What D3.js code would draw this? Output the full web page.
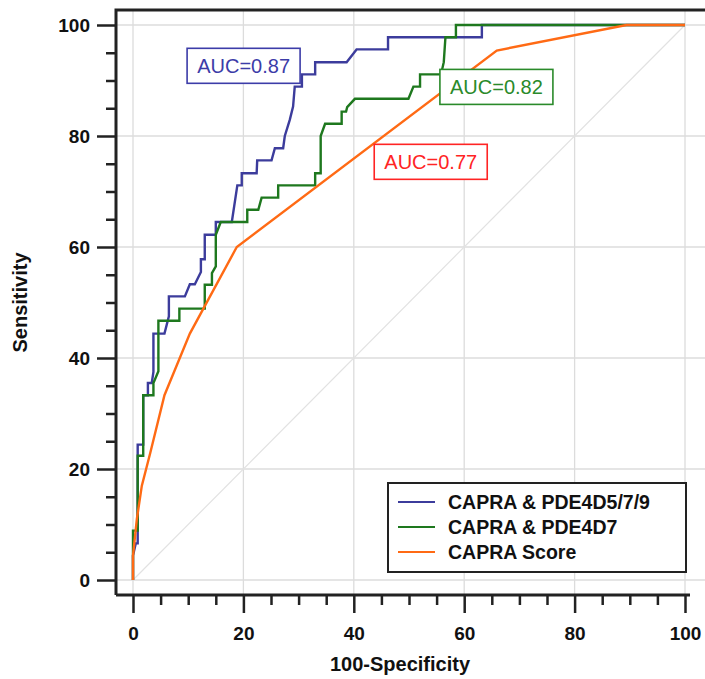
<!DOCTYPE html>
<html>
<head>
<meta charset="utf-8">
<script src="https://cdn.jsdelivr.net/npm/d3@7/dist/d3.min.js"></script>
<style>
  html, body { margin: 0; padding: 0; background: #fff; }
  svg { display: block; }
  text { font-family: "Liberation Sans", Arial, sans-serif; }
</style>
</head>
<body>
<svg id="chart" width="705" height="679"></svg>
<script>
// ---- data ----
const seriesNames = ["CAPRA & PDE4D5/7/9", "CAPRA & PDE4D7", "CAPRA Score"];
const aucLabels = ["AUC=0.87", "AUC=0.82", "AUC=0.77"];

// CAPRA & PDE4D5/7/9  (100-Specificity, Sensitivity)
const fprPDE579 = [0,0,0.5,0.85,0.85,1.85,1.85,2.7,2.7,3.4,3.7,3.7,5.7,6.5,6.5,9.4,10.3,11.2,12.3,12.3,13.0,13.0,15.0,15.0,17.9,18.9,19.7,19.7,22.4,22.5,25.1,25.7,27.2,27.5,28.4,29.0,29.3,30.6,30.6,33.0,33.0,38.7,40.5,46.2,46.2,63.2,63.2,100];
const tprPDE579 = [0,4.4,6.6,6.6,24.4,24.4,33.3,33.3,35.5,35.5,37.5,44.4,44.4,47.5,51.1,51.1,53.3,53.3,55.5,57.8,57.8,62.2,62.2,64.5,64.5,71.1,71.1,73.3,73.3,75.6,75.6,77.8,77.8,80.0,82.9,85.3,88.9,88.9,91.1,91.1,93.3,93.3,95.6,95.6,97.8,97.8,100,100];

// CAPRA & PDE4D7
const fprPDE7 = [0,0,0.85,0.85,1.85,1.85,3.7,3.7,4.6,4.6,8.4,8.4,13.0,13.0,14.3,14.3,15.0,15.0,15.9,20.7,20.7,22.7,23.3,26.3,26.3,33.0,33.0,34.0,34.0,34.8,37.8,37.8,38.6,38.8,40.2,49.9,50.8,52.0,52.0,55.8,56.3,56.6,58.5,58.5,100];
const tprPDE7 = [0,8.9,8.9,22.4,22.4,33.3,33.3,35.5,37.6,46.7,46.7,48.9,48.9,53.2,53.2,55.3,56.5,62.2,64.5,64.5,66.7,66.7,68.9,68.9,71.1,71.1,73.3,73.3,80.0,82.2,82.2,84.4,84.4,85.2,86.7,86.7,88.9,88.9,91.1,91.1,93.3,97.8,97.8,100,100];

// CAPRA Score
const fprCapra = [0,0,0.7,1.6,3.1,5.7,10.3,18.8,65.9,89.4,100];
const tprCapra = [0,4.4,11,17,22.8,33.3,44.4,60,95.4,100,100];

// AUC label anchor positions (data units, left/top of box)
const aucX = [9.8, 55.6, 43.7];
const aucY = [95.8, 92.0, 78.5];

const xTicks = [0, 20, 40, 60, 80, 100];
const yTicks = [0, 20, 40, 60, 80, 100];
const minorTicks = [5,10,15,25,30,35,45,50,55,65,70,75,85,90,95];

// ---- drawing ----
const colors = ["#3c3c9c", "#1e781e", "#ff6a14"];
const aucColors = ["#3c3ca8", "#2a8a2a", "#ff2424"];

const svg = d3.select("#chart");
const x = d3.scaleLinear().domain([0, 100]).range([133, 685]);
const y = d3.scaleLinear().domain([0, 100]).range([580, 25]);

const frameL = 116, frameT = 10, frameR = 705, frameB = 595;

// grid
const grid = svg.append("g");
grid.selectAll("line.v").data(xTicks).join("line")
  .attr("x1", d => x(d)).attr("x2", d => x(d))
  .attr("y1", frameT).attr("y2", frameB)
  .attr("stroke", "#dcdcdc").attr("stroke-width", 1.3);
grid.selectAll("line.h").data(yTicks).join("line")
  .attr("x1", frameL).attr("x2", frameR)
  .attr("y1", d => y(d)).attr("y2", d => y(d))
  .attr("stroke", "#dcdcdc").attr("stroke-width", 1.3);
// diagonal reference
svg.append("line")
  .attr("x1", x(0)).attr("y1", y(0)).attr("x2", x(100)).attr("y2", y(100))
  .attr("stroke", "#e2e2e2").attr("stroke-width", 1.2);

// curves
const series = [
  {fx: fprPDE579, ty: tprPDE579},
  {fx: fprPDE7, ty: tprPDE7},
  {fx: fprCapra, ty: tprCapra}
];
const line = d3.line().x(d => x(d[0])).y(d => y(d[1]));
series.forEach((s, i) => {
  const pts = s.fx.map((v, k) => [v, s.ty[k]]);
  svg.append("path").datum(pts)
    .attr("d", line)
    .attr("fill", "none")
    .attr("stroke", colors[i])
    .attr("stroke-width", 2.4)
    .attr("stroke-linejoin", "miter");
});

// AUC boxes
aucLabels.forEach((t, i) => {
  const bx = x(aucX[i]), by = y(aucY[i]);
  const g = svg.append("g");
  g.append("rect").attr("x", bx).attr("y", by).attr("width", 113).attr("height", 35)
    .attr("fill", "#fff").attr("stroke", aucColors[i]).attr("stroke-width", 1.6);
  g.append("text").attr("x", bx + 56.5).attr("y", by + 25)
    .attr("text-anchor", "middle").attr("font-size", 20)
    .attr("fill", aucColors[i]).text(t);
});

// frame
svg.append("path")
  .attr("d", `M${frameL},${frameB} L${frameL},${frameT} L${frameR},${frameT}`)
  .attr("fill", "none").attr("stroke", "#222").attr("stroke-width", 3);
svg.append("line").attr("x1", frameL).attr("x2", 690).attr("y1", frameB).attr("y2", frameB)
  .attr("stroke", "#222").attr("stroke-width", 3);

// axes
function styleAxis(g) {
  g.select(".domain").remove();
  g.selectAll(".tick line").attr("stroke", "#222").attr("stroke-width", 2.5);
  g.selectAll(".tick text").attr("fill", "#111").attr("font-size", 19)
    .attr("font-weight", "bold").attr("font-family", "'Liberation Sans', Arial, sans-serif");
}
svg.append("g").attr("transform", `translate(${frameL},0)`)
  .call(d3.axisLeft(y).tickValues(yTicks).tickSize(19).tickPadding(7)).call(styleAxis);
svg.append("g").attr("transform", `translate(${frameL},0)`)
  .call(d3.axisLeft(y).tickValues(minorTicks).tickSize(10).tickFormat("")).call(styleAxis);
svg.append("g").attr("transform", `translate(0,${frameB})`)
  .call(d3.axisBottom(x).tickValues(xTicks).tickSize(18).tickPadding(13.5)).call(styleAxis);
svg.append("g").attr("transform", `translate(0,${frameB})`)
  .call(d3.axisBottom(x).tickValues(minorTicks).tickSize(10).tickFormat("")).call(styleAxis);

// axis titles
svg.append("text").attr("x", 400).attr("y", 671)
  .attr("text-anchor", "middle").attr("font-size", 20).attr("font-weight", "bold")
  .attr("fill", "#111").text("100-Specificity");
svg.append("text").attr("transform", `translate(27,${(y(0)+y(100))/2}) rotate(-90)`)
  .attr("text-anchor", "middle").attr("font-size", 20).attr("font-weight", "bold")
  .attr("fill", "#111").text("Sensitivity");

// legend
const lg = svg.append("g");
lg.append("rect").attr("x", 388).attr("y", 483).attr("width", 298).attr("height", 89)
  .attr("fill", "#fff").attr("stroke", "#222").attr("stroke-width", 2);
seriesNames.forEach((n, i) => {
  const ly = 502 + i * 25;
  lg.append("line").attr("x1", 398).attr("x2", 435).attr("y1", ly).attr("y2", ly)
    .attr("stroke", colors[i]).attr("stroke-width", 2);
  lg.append("text").attr("x", 448).attr("y", ly + 7)
    .attr("font-size", 19.5).attr("font-weight", "bold").attr("fill", "#111").text(n);
});
</script>
</body>
</html>
